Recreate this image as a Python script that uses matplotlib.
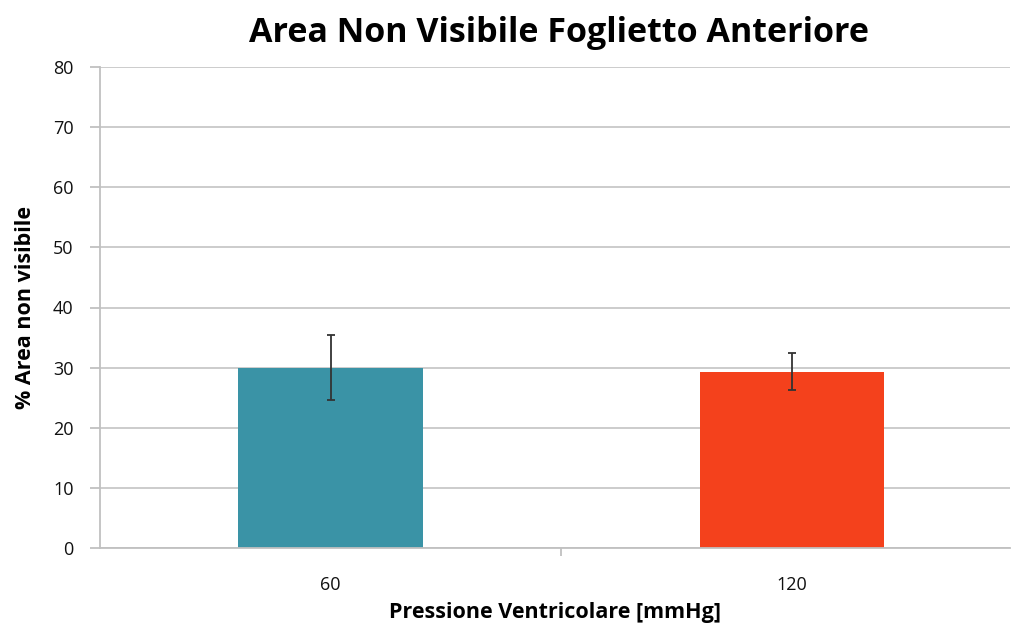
import matplotlib
matplotlib.use("Agg")
import matplotlib.pyplot as plt
from matplotlib.ticker import FixedLocator

categories = ["60", "120"]
values = [30.0, 29.3]
errors = [5.4, 3.1]
colors = ["#3A93A6", "#F4411C"]
y_ticks = [0, 10, 20, 30, 40, 50, 60, 70, 80]

plt.rcParams["font.family"] = ["Open Sans", "DejaVu Sans"]

fig = plt.figure(figsize=(10.12, 6.25), dpi=100)
ax = fig.add_axes([100 / 1012, 77 / 625, 910 / 1012, 481 / 625])

x = list(range(len(categories)))
ax.bar(x, values, width=0.40, color=colors, zorder=2)
ax.errorbar(x, values, yerr=errors, fmt="none", ecolor="#333333",
            elinewidth=1.3, capsize=3, capthick=1.3, zorder=3)

ax.set_ylim(0, 80)
ax.set_xlim(-0.5, 1.473)
ax.set_yticks(y_ticks)
ax.set_xticks(x)
ax.set_xticklabels(categories)
ax.xaxis.set_minor_locator(FixedLocator([0.5]))

ax.grid(axis="y", color="#c8c8c8", linewidth=1.3, zorder=0)
ax.set_axisbelow(True)

for side in ("top", "right"):
    ax.spines[side].set_visible(False)
for side in ("left", "bottom"):
    ax.spines[side].set_color("#c0c0c0")
    ax.spines[side].set_linewidth(1.3)

ax.tick_params(axis="y", length=7, width=1.3, color="#c0c0c0",
               labelsize=13, pad=12, labelcolor="#111111")
ax.tick_params(axis="x", which="major", length=0, labelsize=13, pad=20,
               labelcolor="#111111")
ax.tick_params(axis="x", which="minor", length=6, width=1.3, color="#c0c0c0")

ax.set_xlabel("Pressione Ventricolare [mmHg]", fontsize=15.5, fontweight="bold",
              labelpad=6)
ax.set_ylabel("% Area non visibile", fontsize=15.5, fontweight="bold",
              labelpad=12)
fig.suptitle("Area Non Visibile Foglietto Anteriore", fontsize=24.5,
             fontweight="bold", x=0.552, y=0.975)

fig.savefig("out.png", dpi=100)
